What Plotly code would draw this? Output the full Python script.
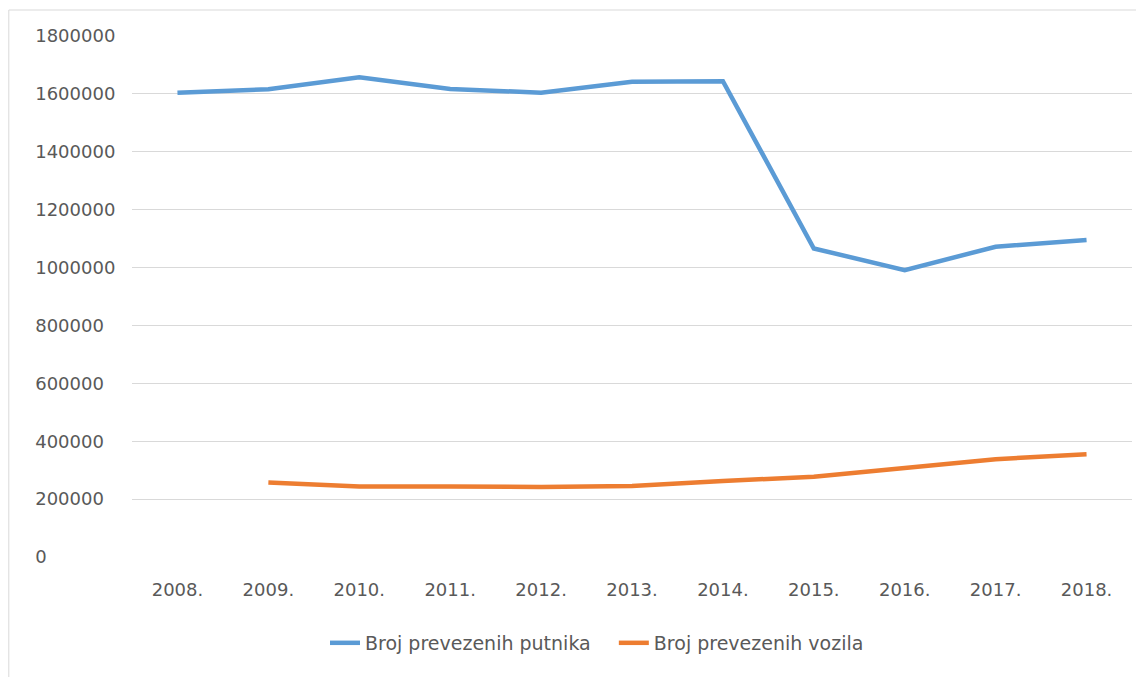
import plotly.graph_objects as go

years = ["2008.", "2009.", "2010.", "2011.", "2012.", "2013.", "2014.", "2015.", "2016.", "2017.", "2018."]
putnici = [1604000, 1616000, 1657000, 1617000, 1604000, 1642000, 1644000, 1066000, 991000, 1072000, 1095000]
vozila = [None, 257000, 244000, 244000, 242000, 245000, 263000, 277000, 309000, 338000, 355000]
y_ticks = [0, 200000, 400000, 600000, 800000, 1000000, 1200000, 1400000, 1600000, 1800000]
y_ticktext = [str(v) + "\u2007" * (7 - len(str(v))) for v in y_ticks]

TEXT = "#595959"
FONT = "DejaVu Sans"

fig = go.Figure()
fig.add_trace(go.Scatter(x=years, y=putnici, mode="lines", name="Broj prevezenih putnika\u00a0\u00a0\u00a0",
                         line=dict(color="#5b9bd5", width=4.5)))
fig.add_trace(go.Scatter(x=years, y=vozila, mode="lines", name="Broj prevezenih vozila",
                         line=dict(color="#ed7d31", width=4.5)))

# page body has an 8px margin, so the figure is sized/placed to compensate
fig.update_layout(
    width=1136, height=669,
    margin=dict(l=124, r=12, t=28, b=120),
    paper_bgcolor="white", plot_bgcolor="white",
    font=dict(family=FONT, color=TEXT, size=18),
    showlegend=True,
    legend=dict(orientation="h", x=0.465, xanchor="center", y=-0.165, yanchor="middle",
                font=dict(size=19, color=TEXT), itemwidth=30, tracegroupgap=0),
    xaxis=dict(type="category", range=[-0.5, 10.5], showgrid=False, zeroline=False,
               showline=False, ticks="outside", ticklen=16, tickcolor="rgba(0,0,0,0)",
               tickfont=dict(size=18, color=TEXT, family=FONT)),
    yaxis=dict(range=[0, 1800000], tickvals=y_ticks, ticktext=y_ticktext,
               showgrid=True, gridcolor="#d9d9d9", gridwidth=1, zeroline=False,
               showline=False, ticks="outside", ticklen=12, tickcolor="rgba(0,0,0,0)",
               tickfont=dict(size=18, color=TEXT, family=FONT)),
    shapes=[dict(type="rect", xref="paper", yref="paper", x0=-0.1232, x1=1.1, y0=-0.5, y1=1.0499,
                 line=dict(color="#d9d9d9", width=1), fillcolor="rgba(0,0,0,0)", layer="below")],
)

fig.write_html("out.html")
